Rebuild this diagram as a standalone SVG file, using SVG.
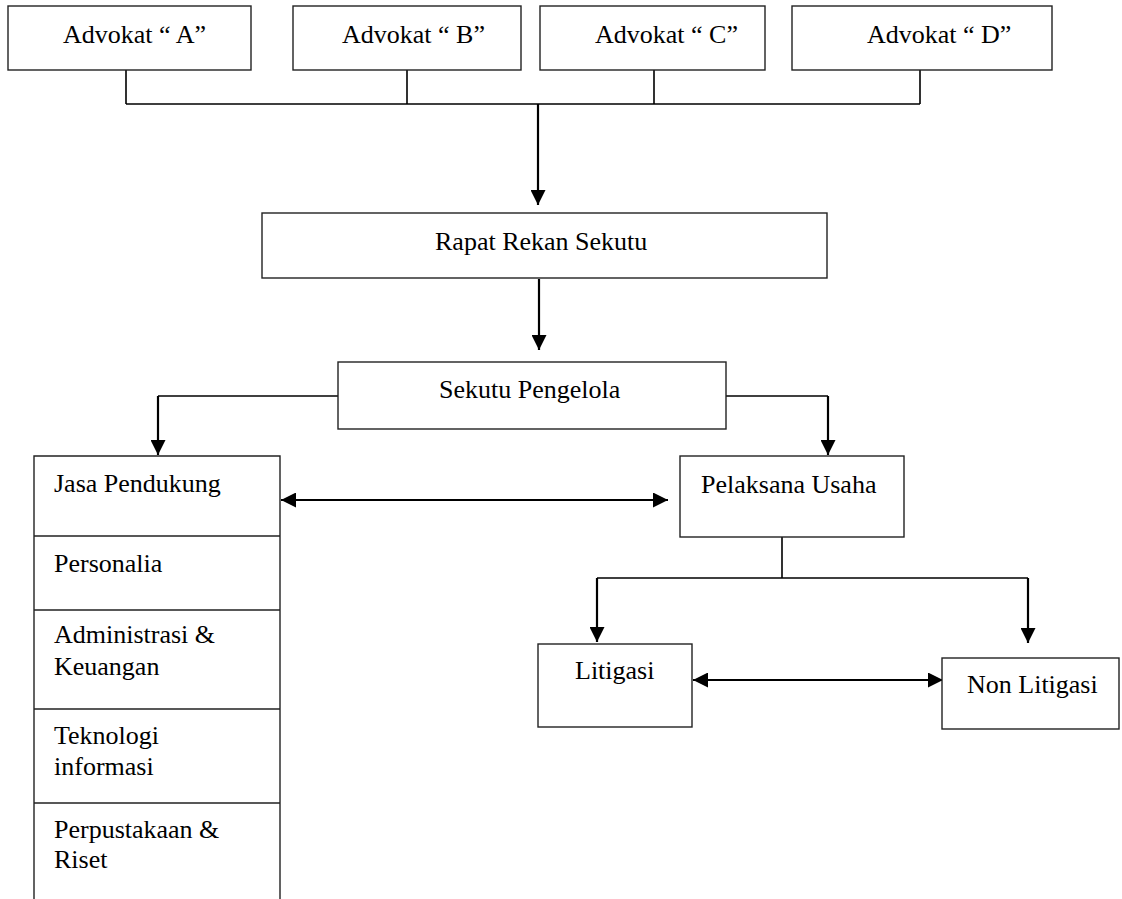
<svg xmlns="http://www.w3.org/2000/svg" width="1122" height="899" viewBox="0 0 1122 899">
<style>
.box{fill:#fff;stroke:#222;stroke-width:1.4}
.t{font-family:"Liberation Serif","Times New Roman",serif;font-size:26px;fill:#000}
.ln{fill:none;stroke:#000;stroke-width:1.6}
.ar{fill:none;stroke:#000;stroke-width:2.2}
</style>
<defs>
<marker id="ah" viewBox="0 0 10 10" refX="10" refY="5" markerWidth="15" markerHeight="15" markerUnits="userSpaceOnUse" orient="auto-start-reverse">
<path d="M0,0 L10,5 L0,10 z" fill="#000"/>
</marker>
</defs>
<rect width="1122" height="899" fill="#fff"/>
<g id="connectors">
<path class="ln" d="M126,70 V104 M407,70 V104 M654,70 V104 M920,70 V104 M126,104 H920"/>
<path class="ar" d="M538,104 V205" marker-end="url(#ah)"/>
<path class="ar" d="M539,279 V350" marker-end="url(#ah)"/>
<path class="ln" d="M338,396 H158"/>
<path class="ar" d="M158,396 V455" marker-end="url(#ah)"/>
<path class="ln" d="M726,396 H828"/>
<path class="ar" d="M828,396 V455" marker-end="url(#ah)"/>
<path class="ar" d="M281,500 H668" marker-start="url(#ah)" marker-end="url(#ah)"/>
<path class="ln" d="M782,537 V578 M597,578 H1028"/>
<path class="ar" d="M597,578 V642" marker-end="url(#ah)"/>
<path class="ar" d="M1028,578 V643" marker-end="url(#ah)"/>
<path class="ar" d="M693,680 H943" marker-start="url(#ah)" marker-end="url(#ah)"/>
</g>
<g id="advokat-a"><rect class="box" x="8" y="6" width="243" height="64"/><text class="t" x="63" y="43">Advokat “ A”</text></g>
<g id="advokat-b"><rect class="box" x="293" y="6" width="228" height="64"/><text class="t" x="342" y="43">Advokat “ B”</text></g>
<g id="advokat-c"><rect class="box" x="540" y="6" width="225" height="64"/><text class="t" x="595" y="43">Advokat “ C”</text></g>
<g id="advokat-d"><rect class="box" x="792" y="6" width="260" height="64"/><text class="t" x="867" y="43">Advokat “ D”</text></g>
<g id="rapat"><rect class="box" x="262" y="213" width="565" height="65"/><text class="t" x="435" y="250">Rapat Rekan Sekutu</text></g>
<g id="sekutu"><rect class="box" x="338" y="362" width="388" height="67"/><text class="t" x="439" y="398">Sekutu Pengelola</text></g>
<g id="jasa">
<path class="box" d="M34,899 V456 H280 V899 M34,536 H280 M34,610 H280 M34,709 H280 M34,803 H280"/>
<text class="t" x="54" y="492">Jasa Pendukung</text>
<text class="t" x="54" y="572">Personalia</text>
<text class="t" x="54" y="643">Administrasi &amp;</text>
<text class="t" x="54" y="675">Keuangan</text>
<text class="t" x="54" y="744">Teknologi</text>
<text class="t" x="54" y="775">informasi</text>
<text class="t" x="54" y="838">Perpustakaan &amp;</text>
<text class="t" x="54" y="868">Riset</text>
</g>
<g id="pelaksana"><rect class="box" x="680" y="456" width="224" height="81"/><text class="t" x="701" y="493">Pelaksana Usaha</text></g>
<g id="litigasi"><rect class="box" x="538" y="644" width="154" height="83"/><text class="t" x="575" y="679">Litigasi</text></g>
<g id="non-litigasi"><rect class="box" x="942" y="658" width="177" height="71"/><text class="t" x="967" y="693">Non Litigasi</text></g>
</svg>
